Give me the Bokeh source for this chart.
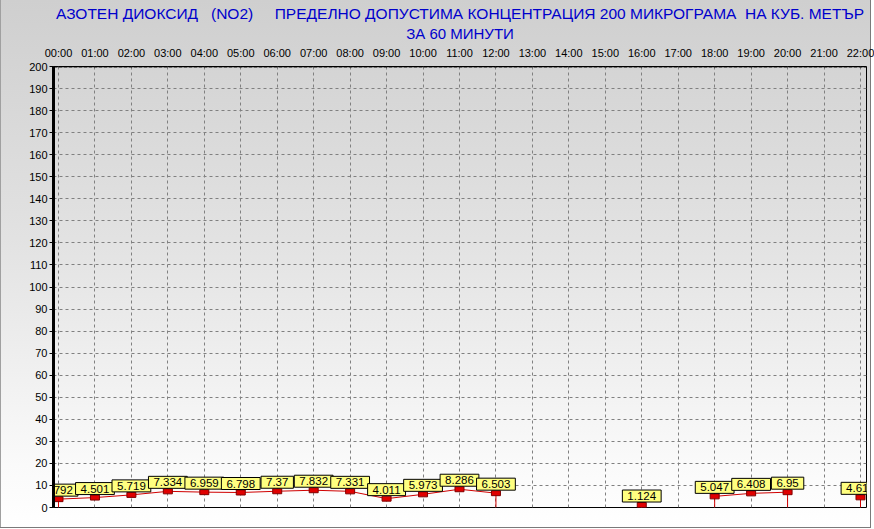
import re
from bokeh.plotting import figure
from bokeh.models import (Range1d, FixedTicker, Span, Title, ColumnDataSource)
from bokeh.core.properties import value
from bokeh.embed import file_html
from bokeh.resources import INLINE

# ---------------- data ----------------
hours = list(range(0, 23))
hour_labels = ["%02d:00" % h for h in hours]
values = [3.792, 4.501, 5.719, 7.334, 6.959, 6.798, 7.37, 7.832, 7.331, 4.011,
          5.973, 8.286, 6.503, None, None, None, 1.124, None, 5.047, 6.408,
          6.95, None, 4.613]
y_ticks = list(range(0, 201, 10))
title_line1 = "АЗОТЕН ДИОКСИД   (NO2)     ПРЕДЕЛНО ДОПУСТИМА КОНЦЕНТРАЦИЯ 200 МИКРОГРАМА  НА КУБ. МЕТЪР"
title_line2 = "ЗА 60 МИНУТИ"

FONT = "Liberation Sans"


def keep_spaces(s):
    # keep runs of spaces visible (SVG collapses plain repeated spaces)
    return re.sub(r" (?= )", "\u00a0", s)


px = [h for h, v in zip(hours, values) if v is not None]
pv = [v for v in values if v is not None]
line_y = [float("nan") if v is None else v for v in values]

# drop lines where a neighbour is missing
drop_x, drop_y = [], []
for i, (h, v) in enumerate(zip(hours, values)):
    if v is None:
        continue
    prev_missing = i == 0 or values[i - 1] is None
    next_missing = i == len(values) - 1 or values[i + 1] is None
    if prev_missing or next_missing:
        drop_x.append(h)
        drop_y.append(v)

p = figure(width=874, height=529, output_backend="svg", toolbar_location=None,
           x_range=Range1d(-0.137, 22.165), y_range=Range1d(0, 200),
           x_axis_location="above", min_border_left=53, min_border_right=8,
           min_border_top=66, min_border_bottom=22)
p.border_fill_color = None
p.background_fill_color = None
p.styles = {
    "background": "linear-gradient(to bottom, #cfcfcf 0%, #e2e2e2 45%, #fafafa 88%, #ffffff 100%)",
    "box-shadow": "inset -3px -1px 0 0 #ffffff, inset -4px -2px 0 0 #7a7a7a, inset 1px 0 0 0 #a0a0a0",
}
p.outline_line_color = "black"
p.outline_line_width = 1

# axes
xa = p.xaxis[0]
xa.ticker = FixedTicker(ticks=hours)
xa.major_label_overrides = {h: s for h, s in zip(hours, hour_labels)}
xa.axis_line_color = None
xa.major_tick_line_color = None
xa.minor_tick_line_color = None
xa.major_label_standoff = 2
xa.major_label_text_font = FONT
xa.major_label_text_font_size = "11px"
xa.major_label_text_color = "black"

ya = p.yaxis[0]
ya.ticker = FixedTicker(ticks=y_ticks)
ya.axis_line_color = "black"
ya.axis_line_width = 3
ya.major_tick_line_color = "black"
ya.major_tick_out = 4
ya.major_tick_in = 0
ya.minor_tick_line_color = None
ya.major_label_standoff = 2
ya.major_label_text_font = FONT
ya.major_label_text_font_size = "11px"
ya.major_label_text_color = "black"

# grid
for g in (p.xgrid[0], p.ygrid[0]):
    g.grid_line_color = "#808080"
    g.grid_line_dash = "3 3"
    g.grid_line_width = 1
p.ygrid[0].ticker = FixedTicker(ticks=y_ticks)
p.xgrid[0].ticker = FixedTicker(ticks=hours)

# top border dashed heavy
p.add_layout(Span(location=200, dimension="width", line_color="black",
                  line_width=2, line_dash="4 1"))

# series
p.line(hours, line_y, line_color="#d00000", line_width=1)
p.segment(x0=drop_x, y0=[0] * len(drop_x), x1=drop_x, y1=drop_y,
          line_color="#d00000", line_width=1)
p.rect(px, pv, width=9, height=5, width_units="screen", height_units="screen",
       fill_color="#e00000", line_color="#800000", line_width=1)

src = ColumnDataSource(dict(x=px, y=pv, t=[str(v) for v in pv]))
p.text(x="x", y="y", text="t", source=src, text_align="center",
       text_baseline="bottom", y_offset=-3,
       text_font=value(FONT), text_font_size="11.5px", text_color="black",
       background_fill_color="#ffff80", border_line_color="black",
       border_line_width=1, padding=(5, 2))

# titles (closest to plot first)
p.add_layout(Title(text=title_line2, align="center", offset=-15, standoff=3,
                   text_font=FONT, text_font_size="15px", text_font_style="normal",
                   text_color="#0000cc"), "above")
p.add_layout(Title(text=keep_spaces(title_line1), align="center", offset=-15, standoff=0,
                   text_font=FONT, text_font_size="15.5px", text_font_style="normal",
                   text_color="#0000cc"), "above")

open("out.html", "w").write(file_html(p, INLINE))
